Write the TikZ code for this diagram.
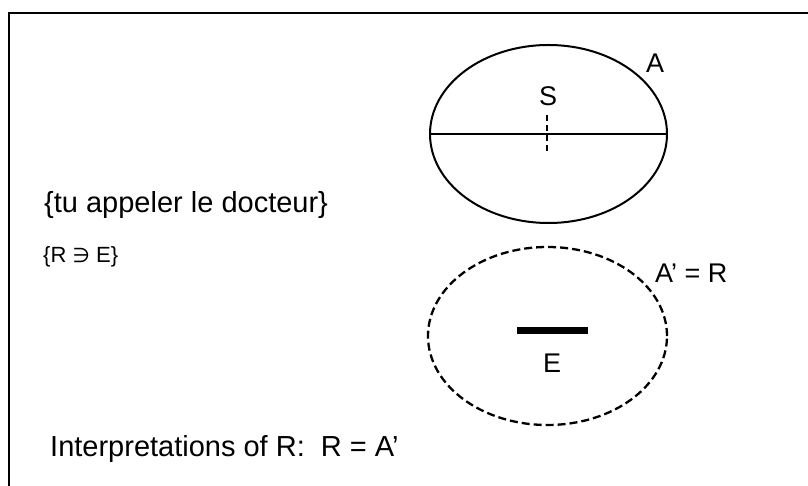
\documentclass[tikz,border=0pt]{standalone}
\usepackage{fontspec}
\setmainfont{Liberation Sans}
\newfontfamily\symfont{DejaVu Sans}
\usetikzlibrary{shapes.geometric}
\tikzset{
  setA/.style={draw, line width=2pt, ellipse, inner sep=0pt, minimum width=237pt, minimum height=178pt},
  setR/.style={draw, line width=2.3pt, ellipse, inner sep=0pt, minimum width=239pt, minimum height=178pt, dash pattern=on 8pt off 4pt},
  bigtxt/.style={font=\fontsize{29}{34}\selectfont, inner sep=0pt, anchor=base west},
  lbl/.style={font=\fontsize{27}{32}\selectfont, inner sep=0pt},
}
\begin{document}
\begin{tikzpicture}[x=1pt,y=-1pt]
\useasboundingbox (0,0) rectangle (808,486);
\draw[line width=2pt] (9,486) -- (9,13) -- (808,13);
% set A
\node[setA] (A) at (548.5,134) {};
\draw[line width=2pt] (A.west) -- (A.east);
\coordinate (s1) at (547,115);
\coordinate (s2) at (547,151);
\draw[line width=1.5pt, dash pattern=on 6pt off 4pt] (s1) -- (s2);
\node[lbl] (S) at (548,96) {S};
\node[lbl, anchor=base west] (Alab) at (646,73) {A};
% set R
\node[setR] (R) at (547.5,336) {};
\coordinate (e1) at (517,330);
\coordinate (e2) at (588,330);
\draw[line width=7pt] (e1) -- (e2);
\node[lbl] (E) at (552,363) {E};
\node[lbl, anchor=base west] (Rlab) at (655,283) {A’ = R};
% texts
\node[bigtxt] (t1) at (44,213) {\{tu appeler le docteur\}};
\node[font=\fontsize{22}{26}\selectfont, inner sep=0pt, anchor=base west] (t2) at (43,262) {\{R {\symfont\fontsize{20}{24}\selectfont ∋} E\}};
\node[bigtxt] (t3) at (50,456) {Interpretations of R:\ \ R = A’};
\end{tikzpicture}
\end{document}
